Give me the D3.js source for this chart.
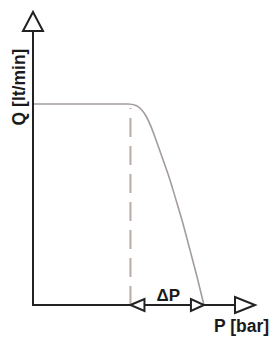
<!DOCTYPE html>
<html>
<head>
<meta charset="utf-8">
<script src="https://cdn.jsdelivr.net/npm/d3@7"></script>
<style>
  body { margin: 0; background: #fff; }
  text { font-family: "Liberation Sans", Arial, sans-serif; font-weight: bold; fill: #1a1a1a; }
</style>
</head>
<body>
<div id="chart"></div>
<script>
// pump characteristic: flow Q against pressure P (arbitrary units)
const pressure = [0, 4.28, 4.64, 4.86, 5.09, 5.32, 5.59, 5.86, 6.17, 6.40, 6.71, 7.07, 7.39, 7.70];
const flow     = [6.86, 6.86, 6.81, 6.69, 6.45, 6.08, 5.53, 4.95, 4.27, 3.69, 2.90, 1.88, 0.96, 0];

// start of regulation and the pressure band
const deltaStart = 4.39;
const deltaEnd = 7.70;
const dashTop = 6.72;

const xLabel = "P [bar]";
const yLabel = "Q [lt/min]";
const deltaLabel = "ΔP";

const width = 274, height = 340;
const svg = d3.select("#chart").append("svg")
    .attr("width", width)
    .attr("height", height);

// origin at (33, 305), axes run up to the arrow tips
const x = d3.scaleLinear().domain([0, 10]).range([33, 255]);
const y = d3.scaleLinear().domain([0, 10]).range([305, 12]);

// dashed marker at the start of the band
svg.append("line")
    .attr("x1", x(deltaStart)).attr("x2", x(deltaStart))
    .attr("y1", y(0)).attr("y2", y(dashTop))
    .attr("stroke", "#b9aaa6")
    .attr("stroke-width", 2)
    .attr("stroke-dasharray", "19,9");

// the curve
const points = pressure.map((p, i) => [p, flow[i]]);
svg.append("path")
    .datum(points)
    .attr("fill", "none")
    .attr("stroke", "#a49c9c")
    .attr("stroke-width", 1.6)
    .attr("d", d3.line().x(d => x(d[0])).y(d => y(d[1])).curve(d3.curveMonotoneX));

// axes
const axisColor = "#222";
svg.append("line")
    .attr("x1", x(0)).attr("x2", x(0))
    .attr("y1", y(0) + 1).attr("y2", y(10))
    .attr("stroke", axisColor).attr("stroke-width", 2);
svg.append("line")
    .attr("x1", x(0) - 1).attr("x2", x(10))
    .attr("y1", y(0)).attr("y2", y(0))
    .attr("stroke", axisColor).attr("stroke-width", 2);

// open triangle heads
function arrow(tipX, tipY, dir, len, half) {
    // dir: unit vector pointing towards the tip
    const bx = tipX - dir[0] * len, by = tipY - dir[1] * len;
    const px = -dir[1] * half, py = dir[0] * half;
    svg.append("path")
        .attr("d", `M${tipX},${tipY}L${bx + px},${by + py}L${bx - px},${by - py}Z`)
        .attr("fill", "#fff")
        .attr("stroke", axisColor)
        .attr("stroke-width", 2)
        .attr("stroke-linejoin", "miter");
}
arrow(x(0), y(10), [0, -1], 19, 10);
arrow(x(10), y(0), [1, 0], 20, 8);
arrow(x(deltaStart), y(0), [-1, 0], 14, 6);
arrow(x(deltaEnd), y(0), [1, 0], 13, 6);

// labels
svg.append("text")
    .attr("x", (x(deltaStart) + x(deltaEnd)) / 2 + 1)
    .attr("y", 301)
    .attr("text-anchor", "middle")
    .style("font-size", "17px")
    .text(deltaLabel);

svg.append("text")
    .attr("x", 214)
    .attr("y", 332)
    .style("font-size", "17.5px")
    .text(xLabel);

svg.append("text")
    .attr("transform", "translate(25,87) rotate(-90)")
    .attr("text-anchor", "middle")
    .style("font-size", "17.5px")
    .text(yLabel);
</script>
</body>
</html>
